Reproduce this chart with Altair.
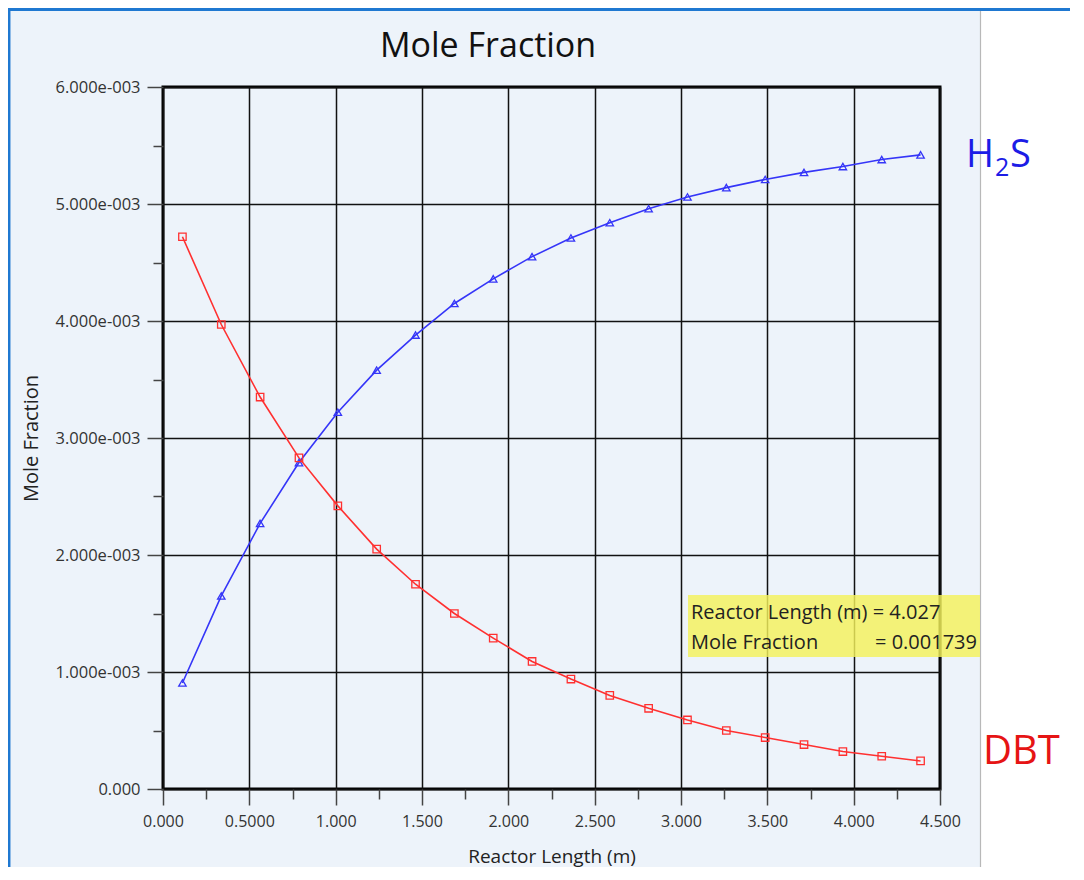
import altair as alt
import pandas as pd

# ---- data ----
reactor_length = [0.1125, 0.3375, 0.5625, 0.7875, 1.0125, 1.2375, 1.4625, 1.6875,
                  1.9125, 2.1375, 2.3625, 2.5875, 2.8125, 3.0375, 3.2625, 3.4875,
                  3.7125, 3.9375, 4.1625, 4.3875]
h2s = [0.906e-3, 1.65e-3, 2.27e-3, 2.79e-3, 3.22e-3, 3.58e-3, 3.88e-3, 4.15e-3,
       4.36e-3, 4.55e-3, 4.71e-3, 4.84e-3, 4.96e-3, 5.06e-3, 5.14e-3, 5.21e-3,
       5.27e-3, 5.32e-3, 5.38e-3, 5.42e-3]
dbt = [4.72e-3, 3.97e-3, 3.35e-3, 2.83e-3, 2.42e-3, 2.05e-3, 1.75e-3, 1.50e-3,
       1.29e-3, 1.09e-3, 0.94e-3, 0.80e-3, 0.69e-3, 0.59e-3, 0.50e-3, 0.44e-3,
       0.38e-3, 0.32e-3, 0.28e-3, 0.24e-3]
series = ["H2S", "DBT"]

x_ticks = [0.0, 0.25, 0.5, 0.75, 1.0, 1.25, 1.5, 1.75, 2.0, 2.25, 2.5, 2.75, 3.0,
           3.25, 3.5, 3.75, 4.0, 4.25, 4.5]
y_ticks = [0.0, 0.0005, 0.001, 0.0015, 0.002, 0.0025, 0.003, 0.0035, 0.004,
           0.0045, 0.005, 0.0055, 0.006]

chart_title = "Mole Fraction"
tooltip_line1 = "Reactor Length (m) = 4.027"
tooltip_line2a = "Mole Fraction"
tooltip_line2b = "= 0.001739"

FONT = "Open Sans"
W, H = 777, 702
PAD_L, PAD_T, PAD_R, PAD_B = 155, 79, 130, 78
PANEL_BG = "#edf3fa"

rows = []
for name, vals in zip(series, [h2s, dbt]):
    for x, y in zip(reactor_length, vals):
        rows.append({"x": x, "y": y, "series": name})
df = pd.DataFrame(rows)

one = pd.DataFrame({"t": [""]})

x_major = "datum.value % 0.5 === 0"
y_major = "round(datum.value * 2000) % 2 === 0"

x_axis = alt.Axis(
    values=x_ticks,
    labelExpr="datum.value === 0 ? '0.000' : (datum.value === 0.5 ? '0.5000' : "
              "(datum.value % 0.5 === 0 ? format(datum.value, '.3f') : ''))",
    grid=True, gridColor="#111111", gridWidth=1.5,
    gridOpacity={"condition": {"test": x_major, "value": 1}, "value": 0},
    tickSize={"condition": {"test": x_major, "value": 16}, "value": 10},
    tickColor="#444444", tickWidth=1.5, domain=False,
    labelFont=FONT, labelFontSize=16, labelColor="#333333", labelPadding=8,
    labelFlush=False, labelOverlap=False,
    title="Reactor Length (m)", titleFont=FONT, titleFontSize=19,
    titleFontWeight="normal", titleColor="#222222", titlePadding=18,
)
y_axis = alt.Axis(
    values=y_ticks,
    labelExpr="round(datum.value * 2000) % 2 === 1 ? '' : (datum.value === 0 ? '0.000' : "
              "format(datum.value * 1000, '.3f') + 'e-003')",
    grid=True, gridColor="#111111", gridWidth=1.5,
    gridOpacity={"condition": {"test": y_major, "value": 1}, "value": 0},
    tickSize={"condition": {"test": y_major, "value": 16}, "value": 10},
    tickColor="#444444", tickWidth=1.5, domain=False,
    labelFont=FONT, labelFontSize=16.5, labelColor="#333333", labelPadding=7,
    labelFlush=False, labelOverlap=False,
    title="Mole Fraction", titleFont=FONT, titleFontSize=20,
    titleFontWeight="normal", titleColor="#222222", titlePadding=14,
)

x_enc = alt.X("x:Q", scale=alt.Scale(domain=[0, 4.5], nice=False, zero=False), axis=x_axis)
y_enc = alt.Y("y:Q", scale=alt.Scale(domain=[0, 0.006], nice=False), axis=y_axis)

lines = alt.Chart(df).mark_line(
    strokeWidth=1.6,
    point=alt.OverlayMarkDef(filled=False, size=55, strokeWidth=1.3),
).encode(
    x=x_enc, y=y_enc,
    color=alt.Color("series:N", scale=alt.Scale(domain=series, range=["#3535f8", "#ff3030"]), legend=None),
    shape=alt.Shape("series:N", scale=alt.Scale(domain=series, range=["triangle-up", "square"]), legend=None),
)

# decorations around the panel (pixel positions relative to plot area)
right_white = alt.Chart(one).mark_rect(color="white").encode(
    x=alt.value(818), x2=alt.value(W + PAD_R + 10), y=alt.value(-PAD_T + 2), y2=alt.value(H + PAD_B + 10))
gray_line = alt.Chart(one).mark_rule(color="#b8b8b8", strokeWidth=1.2).encode(
    x=alt.value(817.5), y=alt.value(-PAD_T + 2), y2=alt.value(H + PAD_B + 10))
blue_top = alt.Chart(one).mark_rule(color="#1f78d1", strokeWidth=3).encode(
    x=alt.value(-PAD_L), x2=alt.value(W + PAD_R + 10), y=alt.value(-PAD_T + 1.5))
blue_left = alt.Chart(one).mark_rule(color="#1f78d1", strokeWidth=2.5).encode(
    x=alt.value(-PAD_L + 1.2), y=alt.value(-PAD_T), y2=alt.value(H + PAD_B + 10))

tip_box = alt.Chart(one).mark_rect(color="#f4f25c", opacity=0.82).encode(
    x=alt.value(525), x2=alt.value(817), y=alt.value(508), y2=alt.value(570))


def label(text, x, y, size, color, align="left"):
    return alt.Chart(pd.DataFrame({"t": [text]})).mark_text(
        align=align, baseline="alphabetic", font=FONT, fontSize=size, color=color
    ).encode(x=alt.value(x), y=alt.value(y), text="t:N")


title_lab = label(chart_title, 217, -30, 34, "#111111")

tip1 = label(tooltip_line1, 528, 532, 20, "#222222")
tip2 = label(tooltip_line2a, 528, 562, 20, "#222222")
tip3 = label(tooltip_line2b, 712, 562, 20, "#222222")

h_lab = label("H", 803, 80, 38, "#1c1ce6")
two_lab = label("2", 832, 89, 25, "#1c1ce6")
s_lab = label("S", 847, 80, 38, "#1c1ce6")
dbt_lab = label("DBT", 820, 677, 40, "#e61414")

chart = alt.layer(
    right_white, gray_line, blue_top, blue_left, tip_box, lines, title_lab,
    tip1, tip2, tip3, h_lab, two_lab, s_lab, dbt_lab,
).properties(
    width=W, height=H,
    autosize=alt.AutoSizeParams(type="none"),
    padding={"left": PAD_L, "top": PAD_T, "right": PAD_R, "bottom": PAD_B},
    background=PANEL_BG,
).configure_view(
    fill=PANEL_BG, stroke="#000000", strokeWidth=3,
)

chart.save("out.html", embed_options={"renderer": "svg", "actions": False})
